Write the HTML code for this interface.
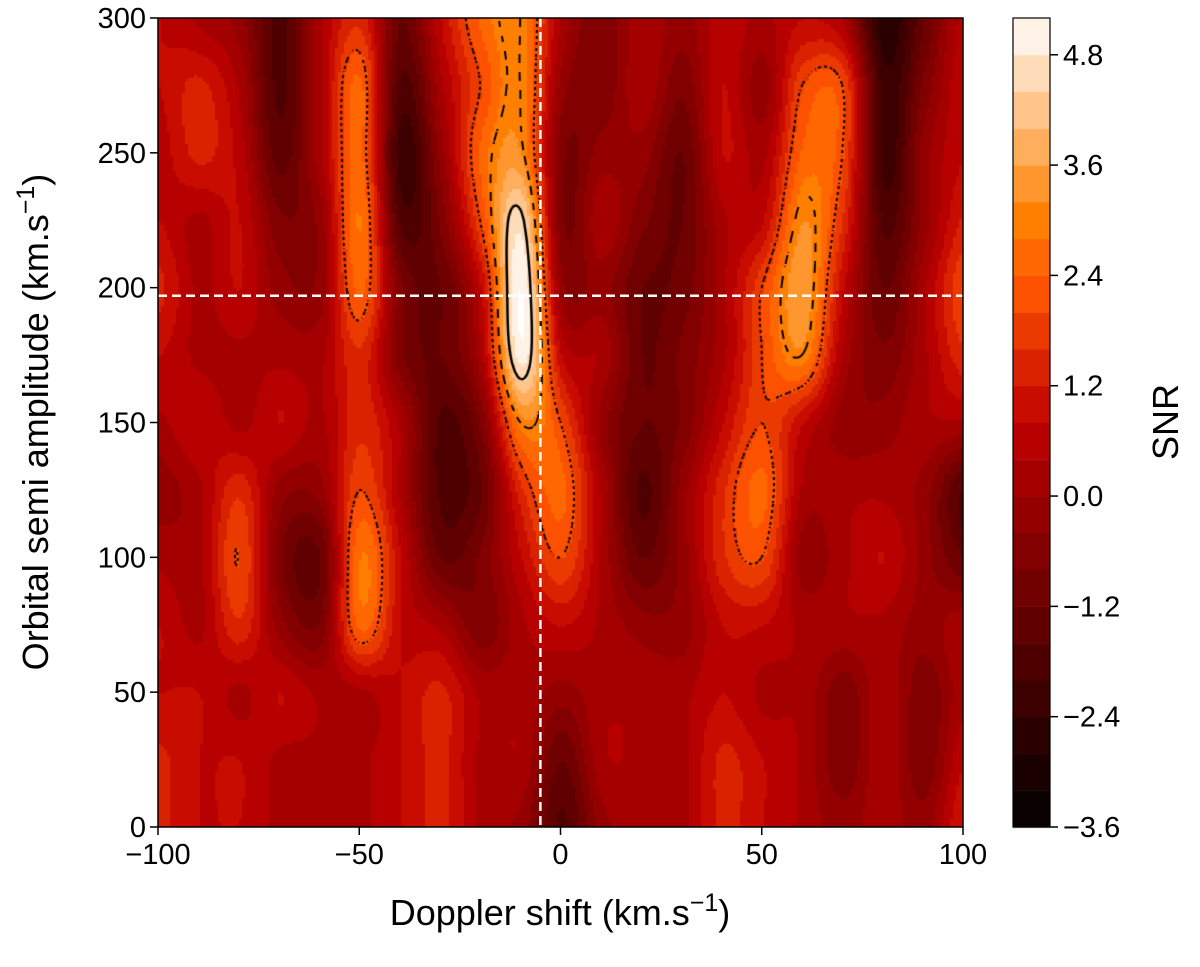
<!DOCTYPE html>
<html><head><meta charset="utf-8"><style>
body{margin:0;background:#fff;width:1200px;height:967px;overflow:hidden;font-family:"Liberation Sans",sans-serif}
#wrap{position:relative;width:1200px;height:967px}
canvas,svg{position:absolute;left:0;top:0}
</style></head><body>
<div id="wrap">
<canvas id="cv" width="1200" height="967"></canvas>
<svg id="sv" width="1200" height="967"></svg>
</div>
<script>
const xCats=[-100,-90,-80,-70,-60,-50,-40,-30,-20,-10,0,10,20,30,40,50,60,70,80,90,100];
const yCatsTopDown=[300,275,250,225,200,175,150,125,100,75,50,25,0];
const snrRows=[
[0.8,0.3,-0.2,-1.7,0.3,1.5,-1.2,0.8,2.5,3.0,0.3,-0.7,0.3,-0.2,0.6,0.3,0.8,0.3,-2.7,-1.2,0.6],
[0.8,1.3,0.3,-1.7,0.3,2.5,-1.7,0.3,2.0,3.0,-0.2,-0.7,0.3,-0.7,0.8,-0.2,2.0,2.0,-2.2,-0.7,0.8],
[0.6,1.3,0.6,-1.4,0.3,2.5,-2.2,-0.2,2.5,3.2,-0.7,-0.2,-0.2,-1.2,0.8,0.3,2.5,2.0,-2.2,-0.2,0.8],
[0.8,0.3,0.8,-0.7,-0.2,2.8,-1.7,-0.7,2.0,4.6,-0.7,0.3,-0.7,-1.2,0.3,0.8,3.2,1.5,-1.7,-0.2,1.3],
[1.3,0.3,0.8,-0.2,-0.2,2.5,-0.7,-1.2,0.8,5.2,-0.2,-0.2,-1.2,-1.0,0.3,2.0,3.5,0.8,-1.2,0.3,2.0],
[0.8,0.3,0.3,0.3,0.3,1.5,-0.7,-1.2,0.3,5.0,0.8,0.3,-1.2,-0.7,0.3,2.0,3.0,0.3,-0.7,0.3,1.5],
[0.3,0.8,0.3,0.8,0.3,1.5,0.3,-1.7,-0.7,3.0,2.0,-0.2,-1.2,-0.7,0.8,2.0,0.8,-0.2,-0.2,0.3,0.3],
[-0.2,0.3,1.5,-0.2,-0.2,2.0,0.3,-1.7,-1.2,1.5,2.5,0.3,-1.7,-0.2,1.5,2.5,0.3,0.3,0.3,-0.2,-1.7],
[0.3,0.3,2.0,-0.7,-1.2,2.8,0.8,-1.2,-0.7,0.8,2.0,0.3,-1.2,-0.2,1.5,2.0,-0.2,0.3,0.8,-0.2,-1.2],
[0.8,0.3,1.5,-0.2,-0.7,2.5,0.8,0.3,-0.7,0.3,0.8,0.3,-0.2,-0.2,0.8,0.8,0.3,0.3,0.3,-0.2,0.3],
[0.8,0.8,0.3,0.8,0.3,0.3,0.8,1.3,0.3,0.3,-0.2,0.3,0.3,0.3,0.8,0.3,0.3,-0.7,0.3,-0.7,0.3],
[1.3,0.8,0.8,0.3,0.3,0.3,0.8,1.3,0.3,0.3,-1.2,0.3,0.3,0.3,1.3,0.8,0.3,-0.7,0.3,-0.7,0.8],
[1.3,0.8,0.8,0.3,0.3,0.3,0.8,1.3,0.3,-0.2,-1.7,-0.2,0.3,0.3,1.3,0.8,0.3,-0.2,0.3,-0.2,1.3]];
const xTicks=[-100,-50,0,50,100];
const yTicks=[0,50,100,150,200,250,300];
const cbTicks=[-3.6,-2.4,-1.2,0.0,1.2,2.4,3.6,4.8];
const markerK=197, markerV=-5;
const vmin=-3.6,vmax=5.2,step=0.4;

const L=158,R=963,T=18,B=827;
const sx=v=>L+(v+100)/200*(R-L);
const sy=v=>B-v/300*(B-T);
const CBL=1013,CBR=1050;
const cy=v=>B-(v-vmin)/(vmax-vmin)*(B-T);

function cmap(v){let t=Math.max(0,Math.min(1,(v-vmin)/(vmax-vmin)));
 const c=x=>Math.round(255*Math.max(0,Math.min(1,x)));
 return `rgb(${c(1.5*t)},${c(2*t-1)},${c(4*t-3)})`;}
function quant(v){let k=Math.floor((v-vmin)/step);return vmin+(k+0.5)*step;}
const nr=snrRows.length,nc=xCats.length;
function g(r,c){r=Math.max(0,Math.min(nr-1,r));c=Math.max(0,Math.min(nc-1,c));return snrRows[r][c];}
function cr(p0,p1,p2,p3,t){return 0.5*((2*p1)+(-p0+p2)*t+(2*p0-5*p1+4*p2-p3)*t*t+(-p0+3*p1-3*p2+p3)*t*t*t);}
function field(xv,yv){
 const fc=Math.min(nc-1.0001,Math.max(0,(xv-xCats[0])/(xCats[1]-xCats[0])));
 const fr=Math.min(nr-1.0001,Math.max(0,(yCatsTopDown[0]-yv)/(yCatsTopDown[0]-yCatsTopDown[1])));
 const c=Math.floor(fc),r=Math.floor(fr),tc=fc-c,tr=fr-r;
 const rows=[];for(let i=-1;i<3;i++)rows.push(cr(g(r+i,c-1),g(r+i,c),g(r+i,c+1),g(r+i,c+2),tc));
 return cr(rows[0],rows[1],rows[2],rows[3],tr);}
const ctx=document.getElementById('cv').getContext('2d');
const S=3;
const W=Math.ceil((R-L)/S),H=Math.ceil((B-T)/S);
const F=[];
for(let j=0;j<=H;j++){F.push([]);for(let i=0;i<=W;i++){
 const px=Math.min(R,L+i*S),py=Math.min(B,T+j*S);const xv=(px-L)/(R-L)*200-100,yv=(B-py)/(B-T)*300;
 F[j].push(field(xv,yv));}}
ctx.save();ctx.beginPath();ctx.rect(L,T,R-L,B-T);ctx.clip();
for(let j=0;j<H;j++)for(let i=0;i<W;i++){
 ctx.fillStyle=cmap(quant(F[j][i]));ctx.fillRect(L+i*S,T+j*S,S+0.5,S+0.5);}
function contour(lev,w,mode){
 ctx.strokeStyle='#000';ctx.lineWidth=w;ctx.beginPath();
 for(let j=0;j<H;j++)for(let i=0;i<W;i++){
  if(mode==='dot' && (i+j)%2===1)continue;
  if(mode==='dash' && Math.floor((i+j)/3)%2===1)continue;
  const a=F[j][i],b=F[j][i+1],c=F[j+1][i+1],d=F[j+1][i];
  const pts=[];const x0=L+i*S,y0=T+j*S;
  if((a-lev)*(b-lev)<0)pts.push([x0+S*(lev-a)/(b-a),y0]);
  if((b-lev)*(c-lev)<0)pts.push([x0+S,y0+S*(lev-b)/(c-b)]);
  if((d-lev)*(c-lev)<0)pts.push([x0+S*(lev-d)/(c-d),y0+S]);
  if((a-lev)*(d-lev)<0)pts.push([x0,y0+S*(lev-a)/(d-a)]);
  for(let k=0;k+1<pts.length;k+=2){ctx.moveTo(pts[k][0],pts[k][1]);ctx.lineTo(pts[k+1][0],pts[k+1][1]);}
 }
 ctx.stroke();}
contour(2.0,2,'dot');
contour(3.0,2,'dash');
contour(4.4,2.5,'solid');
ctx.restore();
for(let v=vmin;v<vmax-1e-6;v+=step){ctx.fillStyle=cmap(v+step/2);ctx.fillRect(CBL,cy(v+step),CBR-CBL,cy(v)-cy(v+step)+0.5);}

const NS='http://www.w3.org/2000/svg',sv=document.getElementById('sv');
function el(tag,at,txt){const e=document.createElementNS(NS,tag);for(const k in at)e.setAttribute(k,at[k]);if(txt!==undefined)e.textContent=txt;sv.appendChild(e);return e;}
let e;
e=el('line',{x1:L,x2:R,y1:sy(markerK),y2:sy(markerK),stroke:'#fff','stroke-width':2.5,'stroke-dasharray':'9,5'});


e=el('line',{x1:sx(markerV),x2:sx(markerV),y1:T,y2:B,stroke:'#fff','stroke-width':2.5,'stroke-dasharray':'9,5'});


e=el('rect',{x:L,y:T,width:R-L,height:B-T,fill:'none',stroke:'#000','stroke-width':1.5});


e=el('rect',{x:CBL,y:T,width:CBR-CBL,height:B-T,fill:'none',stroke:'#000','stroke-width':1.2});


const fs='font-family:"Liberation Sans",sans-serif;';
xTicks.forEach(v=>{el('line',{x1:sx(v),x2:sx(v),y1:B,y2:B+8,stroke:'#000','stroke-width':1.5});
 e=el('text',{x:sx(v),y:B+37,'text-anchor':'middle','font-size':29,style:fs},v<0?'\u2212'+(-v):String(v));
 
 });
yTicks.forEach(v=>{el('line',{x1:L-8,x2:L,y1:sy(v),y2:sy(v),stroke:'#000','stroke-width':1.5});
 e=el('text',{x:L-12,y:sy(v)+10,'text-anchor':'end','font-size':29,style:fs},String(v));
 
 });
cbTicks.forEach(v=>{el('line',{x1:CBR,x2:CBR+8,y1:cy(v),y2:cy(v),stroke:'#000','stroke-width':1.5});
 e=el('text',{x:CBR+13,y:cy(v)+10,'font-size':29,style:fs},(v<0?'\u2212':'')+Math.abs(v).toFixed(1));
 
 });
e=el('text',{x:560,y:925,'text-anchor':'middle','font-size':36,style:fs});
e.innerHTML='Doppler shift (km.s<tspan dy="-14" font-size="25">\u22121</tspan><tspan dy="14">)</tspan>';


e=el('text',{x:0,y:0,'text-anchor':'middle','font-size':36,style:fs,transform:'translate(48,422) rotate(-90)'});
e.innerHTML='Orbital semi amplitude (km.s<tspan dy="-14" font-size="25">\u22121</tspan><tspan dy="14">)</tspan>';


e=el('text',{x:0,y:0,'text-anchor':'middle','font-size':36,style:fs,transform:'translate(1178,422) rotate(-90)'},'SNR');


</script>
</body></html>
